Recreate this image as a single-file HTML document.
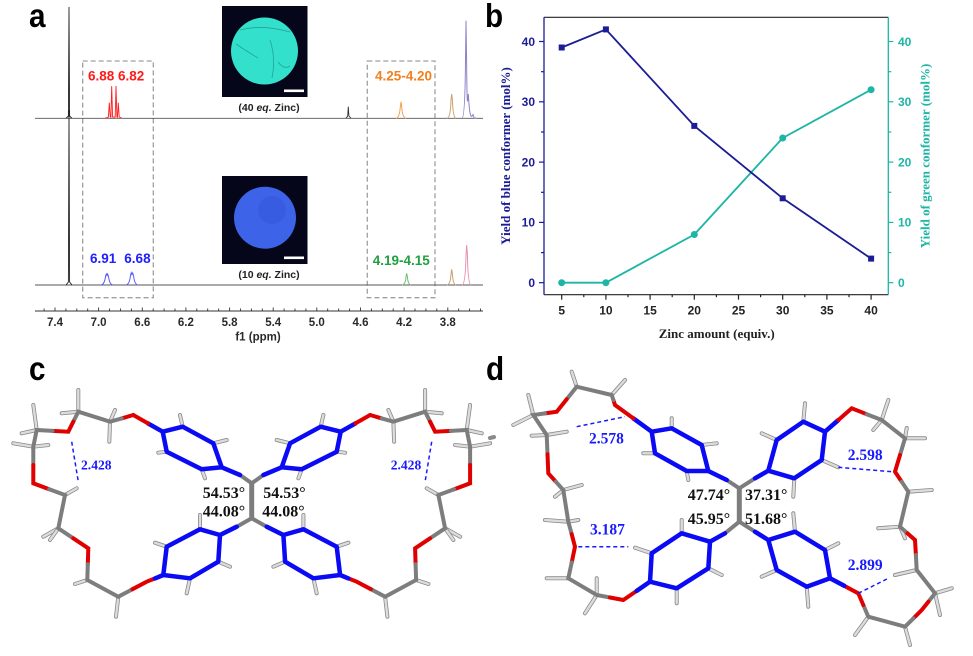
<!DOCTYPE html>
<html><head><meta charset="utf-8"><style>
html,body{margin:0;padding:0;background:#fff;}
svg{display:block;}
.sans{font-family:"Liberation Sans",Arial,sans-serif;}
.serif{font-family:"Liberation Serif","Times New Roman",serif;}
.bl{stroke:#0a0af5;stroke-width:4.5;stroke-linecap:round;stroke-linejoin:round;fill:none;}
.gr{stroke:#7d7d7d;stroke-width:4;stroke-linecap:round;fill:none;}
.rd{stroke:#e00000;stroke-width:4;stroke-linecap:round;fill:none;}
.ho{stroke:#8a8a8a;stroke-width:4;stroke-linecap:round;}
.hi{stroke:#dcdcdc;stroke-width:2.4;stroke-linecap:round;}
.dsh{stroke:#1a1aff;stroke-width:1.5;stroke-dasharray:4 3;fill:none;}
</style></head><body>
<svg width="973" height="656" viewBox="0 0 973 656" xmlns="http://www.w3.org/2000/svg">
<rect width="973" height="656" fill="#fff"/>

<!-- ============ PANEL A ============ -->
<text x="29" y="27" class="sans" font-weight="bold" font-size="33" transform="translate(29 27) scale(0.9 1) translate(-29 -27)">a</text>

<!-- dashed boxes -->
<rect x="82.7" y="61" width="70.6" height="236.7" fill="none" stroke="#a0a0a0" stroke-width="1.3" stroke-dasharray="5 3"/>
<rect x="367.3" y="61" width="67.7" height="236.7" fill="none" stroke="#a0a0a0" stroke-width="1.3" stroke-dasharray="5 3"/>

<!-- top spectrum -->
<path d="M35,118.3 H483" stroke="#555" stroke-width="0.9" fill="none"/>
<path d="M66,118.3 L68.4,116 L69,7 L69.6,116 L72,118.3" stroke="#222" stroke-width="0.9" fill="none"/>
<path d="M105,118.3 L108.4,117 L109.3,102.7 L110.2,117 L110.9,117.3 L111.7,86 L112.6,117 L115.2,117 L116,86 L116.9,117 L117.5,117.3 L118.3,102.7 L119.2,117 L122,118.3" stroke="#ff2020" stroke-width="0.9" fill="none"/>
<path d="M346,118.3 L347.7,116 L348.3,106.7 L348.9,116 L351,118.3" stroke="#333" stroke-width="0.9" fill="none"/>
<path d="M396,118.3 Q399.5,118 400.3,107 L401,101.7 L401.7,107 Q402.5,118 406,118.3" stroke="#f5a050" stroke-width="1" fill="none"/>
<path d="M447,118.3 Q450.5,118 451,100 L451.7,94 L452.4,100 Q453,118 456,118.3" stroke="#c8a070" stroke-width="1" fill="none"/>
<path d="M462,118.3 Q465,118 465.5,60 L466,20.7 L466.6,60 Q467,108 467.7,100 L468.3,94 L469,104 Q470,117 471.8,116.5 L473,114.5 L474.2,118 L477,118.3" stroke="#9080c8" stroke-width="1" fill="none"/>

<!-- bottom spectrum -->
<path d="M35,285 H483" stroke="#555" stroke-width="0.9" fill="none"/>
<path d="M66,285 L68.4,282 L69,110 L69.6,282 L72,285" stroke="#222" stroke-width="0.9" fill="none"/>
<path d="M101,285 Q104.5,284.5 105.6,276 L106.3,274 L107,275.5 L107.7,274 L108.6,277 Q109.5,284.5 113,285" stroke="#5a5aff" stroke-width="1" fill="none"/>
<path d="M126,285 Q129.5,284.5 130.6,275 L131.3,272.7 L132,274.5 L132.7,273 L133.6,276 Q134.5,284.5 138,285" stroke="#5a5aff" stroke-width="1" fill="none"/>
<path d="M402,285 Q405.5,284.5 406,277 L406.7,273.3 L407.4,277 Q408,284.5 411,285" stroke="#70c070" stroke-width="1" fill="none"/>
<path d="M447,285 Q450.5,284.5 451,274 L451.7,269.3 L452.4,274 Q453,284.5 456,285" stroke="#c8a070" stroke-width="1" fill="none"/>
<path d="M462,285 Q465.5,284.5 466,255 L466.7,245 L467.4,255 Q468,284.5 471,285" stroke="#e890b0" stroke-width="1" fill="none"/>

<!-- peak labels -->
<text x="88" y="80.5" class="sans" font-weight="bold" font-size="13.5" fill="#ff1a1a">6.88 6.82</text>
<text x="375" y="80.5" class="sans" font-weight="bold" font-size="13.5" fill="#f08020">4.25-4.20</text>
<text x="90" y="263" class="sans" font-weight="bold" font-size="13.5" fill="#2020ff">6.91</text>
<text x="124.3" y="263" class="sans" font-weight="bold" font-size="13.5" fill="#2020ff">6.68</text>
<text x="372.7" y="265" class="sans" font-weight="bold" font-size="13.5" fill="#20a040">4.19-4.15</text>

<!-- photos -->
<rect x="222" y="6" width="85.5" height="91" fill="#05061a"/>
<circle cx="264.5" cy="51" r="33.5" fill="#33e0cc"/>
<path d="M236,44 Q248,52 258,58 M270,40 Q276,58 272,78 M240,30 Q262,24 290,32 M278,62 Q284,70 290,66" stroke="#1a8a80" stroke-width="0.8" fill="none" opacity="0.7"/>
<rect x="284" y="89.5" width="20" height="2.6" fill="#fff"/>
<text x="269" y="111" class="sans" font-weight="bold" font-size="10.5" fill="#222" text-anchor="middle">(40 <tspan font-style="italic">eq.</tspan> Zinc)</text>

<rect x="222" y="176" width="85.5" height="88" fill="#05061a"/>
<circle cx="265" cy="217.7" r="31" fill="#3d63e8"/>
<circle cx="272" cy="210" r="14" fill="#3558dc" opacity="0.6"/>
<rect x="284" y="256.5" width="20" height="2.6" fill="#fff"/>
<text x="269" y="278" class="sans" font-weight="bold" font-size="10.5" fill="#222" text-anchor="middle">(10 <tspan font-style="italic">eq.</tspan> Zinc)</text>

<!-- x axis a -->
<line x1="35" y1="311" x2="483" y2="311" stroke="#333" stroke-width="1"/>
<g stroke="#333" stroke-width="0.9">
<line x1="44.1" y1="311" x2="44.1" y2="308.5"/><line x1="55" y1="311" x2="55" y2="307.5"/><line x1="65.9" y1="311" x2="65.9" y2="308.5"/><line x1="76.8" y1="311" x2="76.8" y2="308.5"/><line x1="87.7" y1="311" x2="87.7" y2="308.5"/>
<line x1="98.6" y1="311" x2="98.6" y2="307.5"/><line x1="109.5" y1="311" x2="109.5" y2="308.5"/><line x1="120.5" y1="311" x2="120.5" y2="308.5"/><line x1="131.4" y1="311" x2="131.4" y2="308.5"/>
<line x1="142.3" y1="311" x2="142.3" y2="307.5"/><line x1="153.2" y1="311" x2="153.2" y2="308.5"/><line x1="164.1" y1="311" x2="164.1" y2="308.5"/><line x1="175" y1="311" x2="175" y2="308.5"/>
<line x1="185.9" y1="311" x2="185.9" y2="307.5"/><line x1="196.8" y1="311" x2="196.8" y2="308.5"/><line x1="207.7" y1="311" x2="207.7" y2="308.5"/><line x1="218.7" y1="311" x2="218.7" y2="308.5"/>
<line x1="229.6" y1="311" x2="229.6" y2="307.5"/><line x1="240.5" y1="311" x2="240.5" y2="308.5"/><line x1="251.4" y1="311" x2="251.4" y2="308.5"/><line x1="262.3" y1="311" x2="262.3" y2="308.5"/>
<line x1="273.2" y1="311" x2="273.2" y2="307.5"/><line x1="284.1" y1="311" x2="284.1" y2="308.5"/><line x1="295" y1="311" x2="295" y2="308.5"/><line x1="305.9" y1="311" x2="305.9" y2="308.5"/>
<line x1="316.8" y1="311" x2="316.8" y2="307.5"/><line x1="327.7" y1="311" x2="327.7" y2="308.5"/><line x1="338.7" y1="311" x2="338.7" y2="308.5"/><line x1="349.6" y1="311" x2="349.6" y2="308.5"/>
<line x1="360.5" y1="311" x2="360.5" y2="307.5"/><line x1="371.4" y1="311" x2="371.4" y2="308.5"/><line x1="382.3" y1="311" x2="382.3" y2="308.5"/><line x1="393.2" y1="311" x2="393.2" y2="308.5"/>
<line x1="404.1" y1="311" x2="404.1" y2="307.5"/><line x1="415" y1="311" x2="415" y2="308.5"/><line x1="425.9" y1="311" x2="425.9" y2="308.5"/><line x1="436.8" y1="311" x2="436.8" y2="308.5"/>
<line x1="447.8" y1="311" x2="447.8" y2="307.5"/><line x1="458.7" y1="311" x2="458.7" y2="308.5"/><line x1="469.6" y1="311" x2="469.6" y2="308.5"/><line x1="480.5" y1="311" x2="480.5" y2="308.5"/>
</g>
<g class="sans" font-weight="bold" font-size="11.5" fill="#2a2a2a" text-anchor="middle">
<text x="55" y="326">7.4</text><text x="98.6" y="326">7.0</text><text x="142.3" y="326">6.6</text><text x="185.9" y="326">6.2</text><text x="229.6" y="326">5.8</text>
<text x="273.2" y="326">5.4</text><text x="316.8" y="326">5.0</text><text x="360.5" y="326">4.6</text><text x="404.1" y="326">4.2</text><text x="447.8" y="326">3.8</text>
<text x="258" y="340.5">f1 (ppm)</text>
</g>

<!-- ============ PANEL B ============ -->
<text x="485" y="27" class="sans" font-weight="bold" font-size="33" transform="translate(485 27) scale(0.9 1) translate(-485 -27)">b</text>
<line x1="544" y1="17.3" x2="888.3" y2="17.3" stroke="#222" stroke-width="1.2"/>
<line x1="544" y1="294.7" x2="888.3" y2="294.7" stroke="#222" stroke-width="1.2"/>
<line x1="544" y1="17.3" x2="544" y2="294.7" stroke="#1c1c96" stroke-width="1.3"/>
<line x1="888.3" y1="17.3" x2="888.3" y2="294.7" stroke="#1db5a5" stroke-width="1.3"/>
<!-- left ticks -->
<g stroke="#1c1c96" stroke-width="1.2">
<line x1="539" y1="282.7" x2="544" y2="282.7"/><line x1="539" y1="222.4" x2="544" y2="222.4"/><line x1="539" y1="162.1" x2="544" y2="162.1"/><line x1="539" y1="101.8" x2="544" y2="101.8"/><line x1="539" y1="41.5" x2="544" y2="41.5"/>
<line x1="541" y1="252.6" x2="544" y2="252.6"/><line x1="541" y1="192.3" x2="544" y2="192.3"/><line x1="541" y1="132" x2="544" y2="132"/><line x1="541" y1="71.7" x2="544" y2="71.7"/>
</g>
<g stroke="#1db5a5" stroke-width="1.2">
<line x1="888.3" y1="282.7" x2="893.3" y2="282.7"/><line x1="888.3" y1="222.4" x2="893.3" y2="222.4"/><line x1="888.3" y1="162.1" x2="893.3" y2="162.1"/><line x1="888.3" y1="101.8" x2="893.3" y2="101.8"/><line x1="888.3" y1="41.5" x2="893.3" y2="41.5"/>
<line x1="888.3" y1="252.6" x2="891.3" y2="252.6"/><line x1="888.3" y1="192.3" x2="891.3" y2="192.3"/><line x1="888.3" y1="132" x2="891.3" y2="132"/><line x1="888.3" y1="71.7" x2="891.3" y2="71.7"/>
</g>
<g stroke="#222" stroke-width="1.2">
<line x1="561.7" y1="294.7" x2="561.7" y2="299.7"/><line x1="605.9" y1="294.7" x2="605.9" y2="299.7"/><line x1="650.1" y1="294.7" x2="650.1" y2="299.7"/><line x1="694.3" y1="294.7" x2="694.3" y2="299.7"/>
<line x1="738.5" y1="294.7" x2="738.5" y2="299.7"/><line x1="782.7" y1="294.7" x2="782.7" y2="299.7"/><line x1="826.9" y1="294.7" x2="826.9" y2="299.7"/><line x1="871.1" y1="294.7" x2="871.1" y2="299.7"/>
<line x1="583.8" y1="294.7" x2="583.8" y2="297.2"/><line x1="628" y1="294.7" x2="628" y2="297.2"/><line x1="672.2" y1="294.7" x2="672.2" y2="297.2"/><line x1="716.4" y1="294.7" x2="716.4" y2="297.2"/>
<line x1="760.6" y1="294.7" x2="760.6" y2="297.2"/><line x1="804.8" y1="294.7" x2="804.8" y2="297.2"/><line x1="849" y1="294.7" x2="849" y2="297.2"/>
</g>
<g class="sans" font-weight="bold" font-size="12" fill="#1c1c96" text-anchor="end">
<text x="535" y="287">0</text><text x="535" y="226.7">10</text><text x="535" y="166.4">20</text><text x="535" y="106.1">30</text><text x="535" y="45.8">40</text>
</g>
<g class="sans" font-weight="bold" font-size="12" fill="#1db5a5">
<text x="898" y="287">0</text><text x="898" y="226.7">10</text><text x="898" y="166.4">20</text><text x="898" y="106.1">30</text><text x="898" y="45.8">40</text>
</g>
<g class="sans" font-weight="bold" font-size="12" fill="#222" text-anchor="middle">
<text x="561.7" y="314.5">5</text><text x="605.9" y="314.5">10</text><text x="650.1" y="314.5">15</text><text x="694.3" y="314.5">20</text>
<text x="738.5" y="314.5">25</text><text x="782.7" y="314.5">30</text><text x="826.9" y="314.5">35</text><text x="871.1" y="314.5">40</text>
</g>
<text transform="translate(510 156) rotate(-90)" class="serif" font-weight="bold" font-size="13" fill="#1c1c96" text-anchor="middle">Yield of blue conformer (mol%)</text>
<text transform="translate(929.5 156) rotate(-90)" class="serif" font-weight="bold" font-size="13" fill="#1db5a5" text-anchor="middle">Yield of green conformer (mol%)</text>
<text x="716.7" y="337.8" class="serif" font-weight="bold" font-size="13" fill="#222" text-anchor="middle">Zinc amount (equiv.)</text>

<polyline points="561.7,282.7 605.9,282.7 694.3,234.5 782.7,138 871.1,89.7" fill="none" stroke="#1db5a5" stroke-width="1.8"/>
<g fill="#1db5a5"><circle cx="561.7" cy="282.7" r="3.5"/><circle cx="605.9" cy="282.7" r="3.5"/><circle cx="694.3" cy="234.5" r="3.5"/><circle cx="782.7" cy="138" r="3.5"/><circle cx="871.1" cy="89.7" r="3.5"/></g>
<polyline points="561.7,47.5 605.9,29.4 694.3,125.9 782.7,198.3 871.1,258.6" fill="none" stroke="#1c1c96" stroke-width="1.8"/>
<g fill="#1c1c96"><rect x="558.7" y="44.5" width="6" height="6"/><rect x="602.9" y="26.4" width="6" height="6"/><rect x="691.3" y="122.9" width="6" height="6"/><rect x="779.7" y="195.3" width="6" height="6"/><rect x="868.1" y="255.6" width="6" height="6"/></g>

<!-- ============ PANEL C ============ -->
<text x="29" y="380" class="sans" font-weight="bold" font-size="33" transform="translate(29 380) scale(0.9 1) translate(-29 -380)">c</text>
<g id="cl">
 <g>
  <line class="ho" x1="182.7" y1="426.7" x2="180" y2="415"/><line class="hi" x1="182.7" y1="426.7" x2="180" y2="415"/>
  <line class="ho" x1="213.3" y1="443.3" x2="226.7" y2="440"/><line class="hi" x1="213.3" y1="443.3" x2="226.7" y2="440"/>
  <line class="ho" x1="166.7" y1="451.7" x2="158.3" y2="452.7"/><line class="hi" x1="166.7" y1="451.7" x2="158.3" y2="452.7"/>
  <line class="ho" x1="201.7" y1="469.3" x2="205" y2="478.3"/><line class="hi" x1="201.7" y1="469.3" x2="205" y2="478.3"/>
  <line class="ho" x1="110" y1="421.7" x2="115" y2="410"/><line class="hi" x1="110" y1="421.7" x2="115" y2="410"/>
  <line class="ho" x1="110" y1="421.7" x2="109.3" y2="441.7"/><line class="hi" x1="110" y1="421.7" x2="109.3" y2="441.7"/>
  <line class="ho" x1="78.3" y1="411.7" x2="78.3" y2="390"/><line class="hi" x1="78.3" y1="411.7" x2="78.3" y2="390"/>
  <line class="ho" x1="78.3" y1="411.7" x2="61.7" y2="413.3"/><line class="hi" x1="78.3" y1="411.7" x2="61.7" y2="413.3"/>
  <line class="ho" x1="36.7" y1="430" x2="33.3" y2="405"/><line class="hi" x1="36.7" y1="430" x2="33.3" y2="405"/>
  <line class="ho" x1="36.7" y1="430" x2="21.7" y2="433.3"/><line class="hi" x1="36.7" y1="430" x2="21.7" y2="433.3"/>
  <line class="ho" x1="33.3" y1="446.7" x2="13.3" y2="443.3"/><line class="hi" x1="33.3" y1="446.7" x2="13.3" y2="443.3"/>
  <line class="ho" x1="33.3" y1="446.7" x2="48.3" y2="445"/><line class="hi" x1="33.3" y1="446.7" x2="48.3" y2="445"/>
  <line class="ho" x1="65" y1="495" x2="76.7" y2="488.3"/><line class="hi" x1="65" y1="495" x2="76.7" y2="488.3"/>
  <line class="ho" x1="58.3" y1="528.3" x2="43.3" y2="536.7"/><line class="hi" x1="58.3" y1="528.3" x2="43.3" y2="536.7"/>
  <line class="ho" x1="58.3" y1="528.3" x2="50" y2="540"/><line class="hi" x1="58.3" y1="528.3" x2="50" y2="540"/>
  <line class="ho" x1="87.3" y1="580" x2="75" y2="584"/><line class="hi" x1="87.3" y1="580" x2="75" y2="584"/>
  <line class="ho" x1="118.3" y1="596.7" x2="116" y2="616.7"/><line class="hi" x1="118.3" y1="596.7" x2="116" y2="616.7"/>
  <line class="ho" x1="200" y1="529.3" x2="200" y2="515"/><line class="hi" x1="200" y1="529.3" x2="200" y2="515"/>
  <line class="ho" x1="166.7" y1="546.7" x2="155" y2="542.7"/><line class="hi" x1="166.7" y1="546.7" x2="155" y2="542.7"/>
  <line class="ho" x1="190" y1="578.3" x2="186.7" y2="593.3"/><line class="hi" x1="190" y1="578.3" x2="186.7" y2="593.3"/>
  <line class="ho" x1="218.3" y1="561.7" x2="230" y2="566.7"/><line class="hi" x1="218.3" y1="561.7" x2="230" y2="566.7"/>
 </g>
 <line class="gr" x1="251.7" y1="483.3" x2="240" y2="475"/>
 <line class="bl" x1="240" y1="475" x2="221.7" y2="467.3"/>
 <polygon class="bl" points="221.7,467.3 213.3,443.3 182.7,426.7 162.7,431.7 166.7,451.7 201.7,469.3"/>
 <line class="bl" x1="162.7" y1="431.7" x2="148" y2="423.4"/>
 <line class="rd" x1="148" y1="423.4" x2="133.3" y2="415"/>
 <line class="rd" x1="133.3" y1="415" x2="121.7" y2="418.4"/>
 <polyline class="gr" points="121.7,418.4 110,421.7 78.3,411.7 73.3,421.7"/>
 <polyline class="rd" points="73.3,421.7 68.3,431.7 52.5,430.9"/>
 <polyline class="gr" points="52.5,430.9 36.7,430 33.3,446.7 33.3,465"/>
 <polyline class="rd" points="33.3,465 33.3,483.3 49.2,489.2"/>
 <polyline class="gr" points="49.2,489.2 65,495 58.3,528.3 73.3,538.3"/>
 <polyline class="rd" points="73.3,538.3 88.3,548.3 87.8,564.2"/>
 <polyline class="gr" points="87.8,564.2 87.3,580 118.3,596.7 132.5,589.2"/>
 <polyline class="rd" points="132.5,589.2 146.7,581.7 155,578.4"/>
 <line class="bl" x1="155" y1="578.4" x2="163.3" y2="575"/>
 <polygon class="bl" points="220,535 200,529.3 166.7,546.7 163.3,575 190,578.3 218.3,561.7"/>
 <line class="gr" x1="251.7" y1="518.3" x2="236.7" y2="526.7"/>
 <line class="bl" x1="236.7" y1="526.7" x2="220" y2="535"/>
 <line class="dsh" x1="71.7" y1="441.7" x2="78.3" y2="481.7"/>
</g>
<use href="#cl" transform="matrix(-1 0 0 1 503.4 0)"/>
<line x1="251.7" y1="483.3" x2="251.7" y2="518.3" stroke="#7d7d7d" stroke-width="5"/>
<g class="serif" font-weight="bold" font-size="16" fill="#111">
<text x="202.7" y="497.8">54.53°</text><text x="202.7" y="516.5">44.08°</text>
<text x="263.3" y="497.8">54.53°</text><text x="262.3" y="516.5">44.08°</text>
</g>
<g class="serif" font-weight="bold" font-size="13.6" fill="#1a1aff">
<text x="81" y="469.5">2.428</text><text x="390.7" y="469.5">2.428</text>
</g>

<!-- ============ PANEL D ============ -->
<text x="486" y="380" class="sans" font-weight="bold" font-size="33" transform="translate(486 380) scale(0.9 1) translate(-486 -380)">d</text>
<line class="ho" x1="490" y1="438" x2="494" y2="437"/>
<g>
 <line class="ho" x1="671.7" y1="428.3" x2="671.7" y2="418.3"/><line class="hi" x1="671.7" y1="428.3" x2="671.7" y2="418.3"/>
 <line class="ho" x1="701.7" y1="445" x2="716.7" y2="443.3"/><line class="hi" x1="701.7" y1="445" x2="716.7" y2="443.3"/>
 <line class="ho" x1="655" y1="453.3" x2="643.3" y2="453.3"/><line class="hi" x1="655" y1="453.3" x2="643.3" y2="453.3"/>
 <line class="ho" x1="686.7" y1="471" x2="688.3" y2="480"/><line class="hi" x1="686.7" y1="471" x2="688.3" y2="480"/>
 <line class="ho" x1="611.7" y1="395" x2="625" y2="380"/><line class="hi" x1="611.7" y1="395" x2="625" y2="380"/>
 <line class="ho" x1="576.7" y1="386.7" x2="571.7" y2="371.7"/><line class="hi" x1="576.7" y1="386.7" x2="571.7" y2="371.7"/>
 <line class="ho" x1="533.3" y1="415" x2="528.3" y2="395"/><line class="hi" x1="533.3" y1="415" x2="528.3" y2="395"/>
 <line class="ho" x1="533.3" y1="415" x2="513.3" y2="425"/><line class="hi" x1="533.3" y1="415" x2="513.3" y2="425"/>
 <line class="ho" x1="546.7" y1="435" x2="531.7" y2="435.7"/><line class="hi" x1="546.7" y1="435" x2="531.7" y2="435.7"/>
 <line class="ho" x1="546.7" y1="435" x2="566.7" y2="431.7"/><line class="hi" x1="546.7" y1="435" x2="566.7" y2="431.7"/>
 <line class="ho" x1="563.3" y1="490" x2="581.7" y2="485"/><line class="hi" x1="563.3" y1="490" x2="581.7" y2="485"/>
 <line class="ho" x1="563.3" y1="490" x2="555" y2="496.7"/><line class="hi" x1="563.3" y1="490" x2="555" y2="496.7"/>
 <line class="ho" x1="568.3" y1="521.7" x2="545" y2="520"/><line class="hi" x1="568.3" y1="521.7" x2="545" y2="520"/>
 <line class="ho" x1="568.3" y1="521.7" x2="578.3" y2="520"/><line class="hi" x1="568.3" y1="521.7" x2="578.3" y2="520"/>
 <line class="ho" x1="568.3" y1="578.3" x2="546.7" y2="578.3"/><line class="hi" x1="568.3" y1="578.3" x2="546.7" y2="578.3"/>
 <line class="ho" x1="596.7" y1="595" x2="596.7" y2="578.3"/><line class="hi" x1="596.7" y1="595" x2="596.7" y2="578.3"/>
 <line class="ho" x1="596.7" y1="595" x2="585" y2="613.3"/><line class="hi" x1="596.7" y1="595" x2="585" y2="613.3"/>
 <line class="ho" x1="681.7" y1="533.3" x2="681.7" y2="520"/><line class="hi" x1="681.7" y1="533.3" x2="681.7" y2="520"/>
 <line class="ho" x1="651.7" y1="553.3" x2="635" y2="547.7"/><line class="hi" x1="651.7" y1="553.3" x2="635" y2="547.7"/>
 <line class="ho" x1="676.7" y1="588.3" x2="676.7" y2="603.3"/><line class="hi" x1="676.7" y1="588.3" x2="676.7" y2="603.3"/>
 <line class="ho" x1="708.3" y1="568.3" x2="721.7" y2="575"/><line class="hi" x1="708.3" y1="568.3" x2="721.7" y2="575"/>
 <line class="ho" x1="803.3" y1="421.7" x2="805" y2="403.3"/><line class="hi" x1="803.3" y1="421.7" x2="805" y2="403.3"/>
 <line class="ho" x1="776.7" y1="440" x2="761.7" y2="433.3"/><line class="hi" x1="776.7" y1="440" x2="761.7" y2="433.3"/>
 <line class="ho" x1="821.7" y1="460" x2="838.3" y2="467.3"/><line class="hi" x1="821.7" y1="460" x2="838.3" y2="467.3"/>
 <line class="ho" x1="794.3" y1="478.3" x2="793.3" y2="496.7"/><line class="hi" x1="794.3" y1="478.3" x2="793.3" y2="496.7"/>
 <line class="ho" x1="881.7" y1="420" x2="888.3" y2="400"/><line class="hi" x1="881.7" y1="420" x2="888.3" y2="400"/>
 <line class="ho" x1="881.7" y1="420" x2="873.3" y2="430"/><line class="hi" x1="881.7" y1="420" x2="873.3" y2="430"/>
 <line class="ho" x1="905" y1="438.3" x2="925" y2="438.3"/><line class="hi" x1="905" y1="438.3" x2="925" y2="438.3"/>
 <line class="ho" x1="905" y1="438.3" x2="906.7" y2="428"/><line class="hi" x1="905" y1="438.3" x2="906.7" y2="428"/>
 <line class="ho" x1="908.3" y1="491.7" x2="931.7" y2="490"/><line class="hi" x1="908.3" y1="491.7" x2="931.7" y2="490"/>
 <line class="ho" x1="900" y1="526.7" x2="878.3" y2="528.3"/><line class="hi" x1="900" y1="526.7" x2="878.3" y2="528.3"/>
 <line class="ho" x1="900" y1="526.7" x2="905" y2="538.3"/><line class="hi" x1="900" y1="526.7" x2="905" y2="538.3"/>
 <line class="ho" x1="916.7" y1="570" x2="895" y2="575"/><line class="hi" x1="916.7" y1="570" x2="895" y2="575"/>
 <line class="ho" x1="935" y1="593.3" x2="951.7" y2="588.3"/><line class="hi" x1="935" y1="593.3" x2="951.7" y2="588.3"/>
 <line class="ho" x1="935" y1="593.3" x2="940" y2="615"/><line class="hi" x1="935" y1="593.3" x2="940" y2="615"/>
 <line class="ho" x1="905" y1="626.7" x2="910" y2="645"/><line class="hi" x1="905" y1="626.7" x2="910" y2="645"/>
 <line class="ho" x1="868.3" y1="616.7" x2="855" y2="635"/><line class="hi" x1="868.3" y1="616.7" x2="855" y2="635"/>
 <line class="ho" x1="795" y1="531.7" x2="793.3" y2="513.3"/><line class="hi" x1="795" y1="531.7" x2="793.3" y2="513.3"/>
 <line class="ho" x1="825" y1="550" x2="838.3" y2="543.3"/><line class="hi" x1="825" y1="550" x2="838.3" y2="543.3"/>
 <line class="ho" x1="776.7" y1="570" x2="761.7" y2="576.7"/><line class="hi" x1="776.7" y1="570" x2="761.7" y2="576.7"/>
 <line class="ho" x1="806.7" y1="586.7" x2="808.3" y2="606.7"/><line class="hi" x1="806.7" y1="586.7" x2="808.3" y2="606.7"/>
</g>
<!-- d: left side -->
<line class="gr" x1="739.3" y1="488.3" x2="726.7" y2="480"/>
<line class="bl" x1="726.7" y1="480" x2="708.3" y2="471"/>
<polygon class="bl" points="708.3,471 701.7,445 671.7,428.3 651.7,431.7 655,453.3 686.7,471"/>
<line class="bl" x1="651.7" y1="431.7" x2="633.4" y2="418.4"/>
<polyline class="rd" points="633.4,418.4 615,405 613.4,400"/>
<polyline class="gr" points="613.4,400 611.7,395 576.7,386.7 566.7,399.2"/>
<polyline class="rd" points="566.7,399.2 556.7,411.7 545,413.4"/>
<polyline class="gr" points="545,413.4 533.3,415 546.7,435 547.5,454.2"/>
<polyline class="rd" points="547.5,454.2 548.3,473.3 555.8,481.7"/>
<polyline class="gr" points="555.8,481.7 563.3,490 568.3,521.7 571.7,534.2"/>
<polyline class="rd" points="571.7,534.2 575,546.7 571.7,562.5"/>
<polyline class="gr" points="571.7,562.5 568.3,578.3 596.7,595 610,597.5"/>
<polyline class="rd" points="610,597.5 623.3,600 636.7,590.9"/>
<line class="bl" x1="636.7" y1="590.9" x2="650" y2="581.7"/>
<polygon class="bl" points="710,541.7 681.7,533.3 651.7,553.3 650,581.7 676.7,588.3 708.3,568.3"/>
<line class="gr" x1="739.3" y1="521.7" x2="725" y2="533.3"/>
<line class="bl" x1="725" y1="533.3" x2="710" y2="541.7"/>
<!-- d: right side -->
<line class="gr" x1="739.3" y1="488.3" x2="755" y2="478.3"/>
<line class="bl" x1="755" y1="478.3" x2="768.3" y2="470.7"/>
<polygon class="bl" points="768.3,470.7 776.7,440 803.3,421.7 825,431.7 821.7,460 794.3,478.3"/>
<line class="bl" x1="825" y1="431.7" x2="838.4" y2="420"/>
<polyline class="rd" points="838.4,420 851.7,408.3 866.7,414.2"/>
<polyline class="gr" points="866.7,414.2 881.7,420 905,438.3 900,455"/>
<polyline class="rd" points="900,455 895,471.7 901.7,481.7"/>
<polyline class="gr" points="901.7,481.7 908.3,491.7 900,526.7 907.5,533.4"/>
<polyline class="rd" points="907.5,533.4 915,540 915.9,555"/>
<polyline class="gr" points="915.9,555 916.7,570 935,593.3 928.4,601.7"/>
<polyline class="rd" points="928.4,601.7 921.7,610 913.4,618.4"/>
<polyline class="gr" points="913.4,618.4 905,626.7 868.3,616.7 863.3,605"/>
<polyline class="rd" points="863.3,605 858.3,593.3 844.2,585.8"/>
<line class="bl" x1="844.2" y1="585.8" x2="830" y2="578.3"/>
<polygon class="bl" points="768.3,540 776.7,570 806.7,586.7 830,578.3 825,550 795,531.7"/>
<line class="gr" x1="739.3" y1="521.7" x2="755" y2="531.7"/>
<line class="bl" x1="755" y1="531.7" x2="768.3" y2="540"/>
<line x1="739.3" y1="488.3" x2="739.3" y2="521.7" stroke="#7d7d7d" stroke-width="5"/>
<!-- dashes -->
<line class="dsh" x1="576.7" y1="426.7" x2="625" y2="416.7"/>
<line class="dsh" x1="578.3" y1="546.7" x2="628.3" y2="546.7"/>
<line class="dsh" x1="838.3" y1="467.3" x2="891.7" y2="471.7"/>
<line class="dsh" x1="858.3" y1="593.3" x2="888.3" y2="578.3"/>
<g class="serif" font-weight="bold" font-size="16" fill="#111">
<text x="687.7" y="500">47.74°</text><text x="745" y="500">37.31°</text>
<text x="687.7" y="524">45.95°</text><text x="745" y="524">51.68°</text>
</g>
<g class="serif" font-weight="bold" font-size="15.5" fill="#1a1aff">
<text x="589" y="443.5">2.578</text><text x="590" y="534.5">3.187</text>
<text x="847.7" y="460">2.598</text><text x="847.7" y="570">2.899</text>
</g>
</svg>
</body></html>
